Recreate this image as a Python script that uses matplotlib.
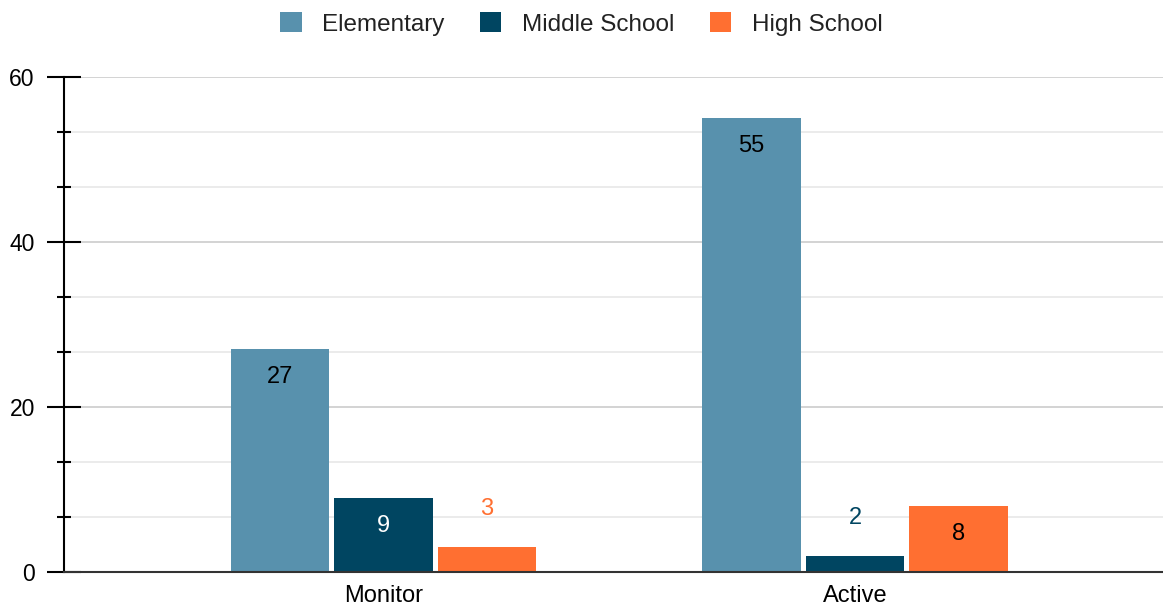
import matplotlib
matplotlib.use("Agg")
import matplotlib.pyplot as plt
from matplotlib.ticker import MultipleLocator
import numpy as np

plt.rcParams['font.family'] = ['Liberation Sans', 'DejaVu Sans']

categories = ["Monitor", "Active"]
series_names = ["Elementary", "Middle School", "High School"]
elementary = [27, 55]
middle = [9, 2]
high = [3, 8]
colors = ["#5891AD", "#004561", "#FF6F31"]

fig = plt.figure(figsize=(11.63, 6.07), dpi=100)
ax = fig.add_axes([64/1163, 35/607, 1 - 64/1163, (572-77)/607])

x = np.arange(len(categories))
width = 0.208
step = 0.2195
values = [elementary, middle, high]
for i, (name, vals, c) in enumerate(zip(series_names, values, colors)):
    pos = x + (i - 1) * step
    ax.bar(pos, vals, width=width, color=c, label=name, zorder=3)
    for p, v in zip(pos, vals):
        if v >= 5:
            tcol = "white" if c == "#004561" else "black"
            ax.text(p, v - 3.4, str(v), ha="center", va="center", fontsize=17, color=tcol, zorder=4)
        else:
            ax.text(p, v + 4.6, str(v), ha="center", va="center", fontsize=17, color=c, zorder=4)

ax.set_xlim((64-383.5)/471.5, (1163-383.5)/471.5)
ax.set_ylim(0, 60)
ax.set_xticks(x)
ax.set_xticklabels(categories, fontsize=17)
ax.tick_params(axis="x", length=0, pad=9)
ax.yaxis.set_major_locator(MultipleLocator(20))
ax.yaxis.set_minor_locator(MultipleLocator(20/3))
ax.tick_params(axis="y", which="major", direction="inout", length=24, width=1.5, labelsize=16.5, pad=9, color="black")
ax.tick_params(axis="y", which="minor", direction="inout", length=10, width=1.5, color="black")
ax.grid(axis="y", which="major", color="#cccccc", linewidth=1.2, zorder=0)
ax.grid(axis="y", which="minor", color="#e8e8e8", linewidth=1.2, zorder=0)
for s in ["top", "right"]:
    ax.spines[s].set_visible(False)
ax.spines["left"].set_linewidth(1.5)
ax.spines["left"].set_color("black")
ax.spines["bottom"].set_linewidth(1.5)
ax.spines["bottom"].set_color("#333333")
ax.spines["bottom"].set_zorder(5)

leg = fig.legend(loc="center", bbox_to_anchor=(0.5, 1 - 24/607), ncol=3, frameon=False,
                 fontsize=17.5, handlelength=0.88, handleheight=0.88, columnspacing=1.45, handletextpad=0.85)
for t in leg.get_texts():
    t.set_color("#222222")

fig.savefig("out.png", dpi=100)
